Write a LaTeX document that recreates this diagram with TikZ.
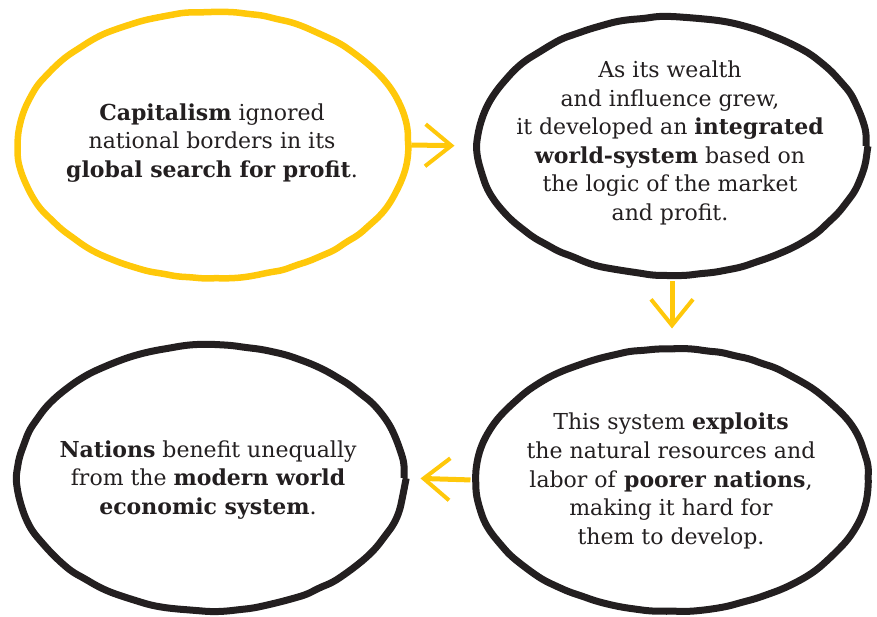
\documentclass[tikz,border=0pt]{standalone}
\usepackage{fontspec}
\setmainfont{DejaVu Serif}
\usepackage{tikz}
\usetikzlibrary{shapes.geometric, arrows.meta, decorations.pathmorphing}
\definecolor{markyellow}{RGB}{255,200,10}
\definecolor{inkblack}{RGB}{35,31,32}

\begin{document}
\pgfmathsetseed{11}
\begin{tikzpicture}[x=1pt, y=-1pt,
  bubble/.style={ellipse, draw=inkblack, line width=7pt, inner sep=0pt,
    decorate, decoration={random steps, segment length=14pt, amplitude=0.7pt},
    rounded corners=6pt},
  capbubble/.style={bubble, draw=markyellow, line width=6.5pt},
  txt/.style={align=center, text=inkblack, font=\fontsize{22}{28.6}\selectfont},
  arrow/.style={-{Straight Barb[length=26pt, width=42pt, line width=4pt]}, markyellow, line width=5pt},
]
  \useasboundingbox (0,0) rectangle (877,617);

  \node[capbubble, minimum width=390pt, minimum height=266pt] (cap) at (213,145) {};
  \node[bubble, minimum width=388pt, minimum height=258pt] (grow) at (672,146) {};
  \node[bubble, minimum width=392pt, minimum height=262pt] (exploit) at (672,480) {};
  \node[bubble, minimum width=386pt, minimum height=266pt] (nation) at (211,478) {};

  \draw[arrow, shorten >=20pt] (cap.east) -- (grow.west);
  \draw[arrow, shorten <=3pt, shorten >=17pt] (grow.south) -- (exploit.north);
  \draw[arrow, shorten <=2pt, shorten >=13pt] (exploit.west) -- (nation.east);

  \node[txt] (cap-t) at (212,143) {\textbf{Capitalism} ignored\\ national borders in its\\ \textbf{global search for profit}.};
  \node[txt] (grow-t) at (670,143) {As its wealth\\ and influence grew,\\ it developed an \textbf{integrated}\\ \textbf{world-system} based on\\ the logic of the market\\ and profit.};
  \node[txt] (exploit-t) at (671,481) {This system \textbf{exploits}\\ the natural resources and\\ labor of \textbf{poorer nations},\\ making it hard for\\ them to develop.};
  \node[txt] (nation-t) at (208,480) {\textbf{Nations} benefit unequally\\ from the \textbf{modern world}\\ \textbf{economic system}.};
\end{tikzpicture}
\end{document}
